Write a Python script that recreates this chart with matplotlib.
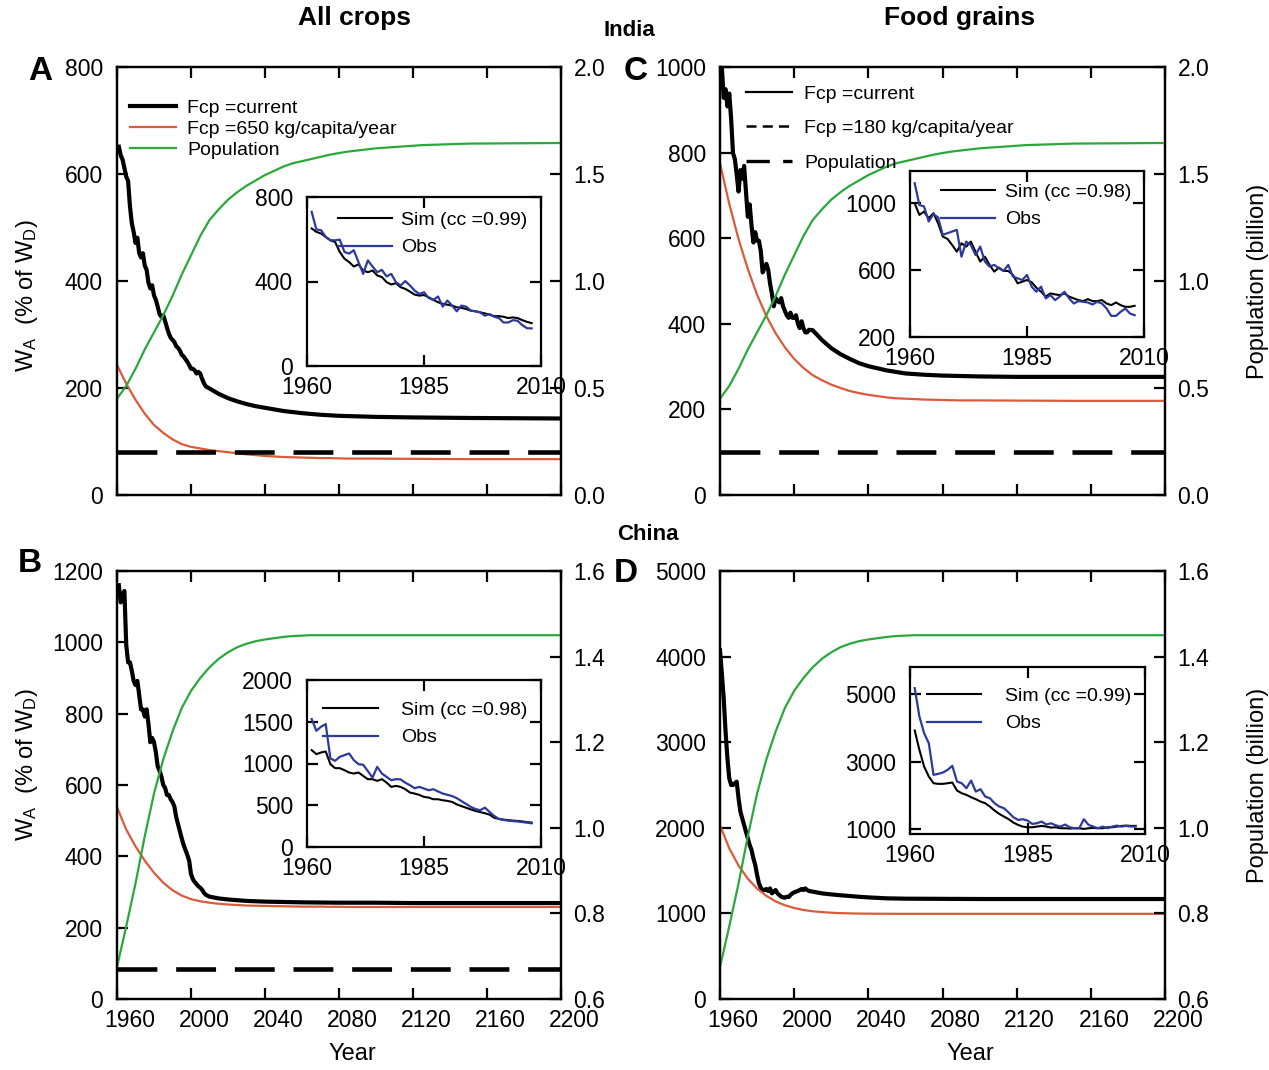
import matplotlib
matplotlib.use('Agg')
import matplotlib.pyplot as plt
from matplotlib.lines import Line2D
import matplotlib.transforms as mtransforms

plt.rcParams['font.family'] = ['Liberation Sans', 'DejaVu Sans']
plt.rcParams['mathtext.fontset'] = 'custom'
plt.rcParams['mathtext.rm'] = 'Liberation Sans'
plt.rcParams['mathtext.it'] = 'Liberation Sans:italic'
plt.rcParams['mathtext.bf'] = 'Liberation Sans:bold'

# ---------------- data ----------------
years_obs = list(range(1961, 2009))
years_proj = [2010, 2015, 2020, 2025, 2030, 2035, 2040, 2050, 2060, 2070, 2080, 2100, 2120, 2150, 2200]
years_smooth = [1960, 1965, 1970, 1975, 1980, 1985, 1990, 1995, 2000, 2005, 2010, 2015, 2020,
                2025, 2030, 2035, 2040, 2045, 2050, 2055, 2060, 2065, 2070, 2075, 2080, 2085,
                2090, 2095, 2100, 2125, 2150, 2200]

# India, all crops (W_A, % of W_D)
india_all_sim = [651, 635, 627, 611, 595, 587, 540, 508, 492, 471, 481, 452, 444, 452, 429, 421,
                 397, 386, 392, 373, 365, 352, 338, 333, 336, 325, 313, 302, 294, 290, 286, 278,
                 275, 270, 262, 259, 254, 249, 243, 236, 236, 233, 227, 230, 227, 217, 209, 203]
india_all_obs = [730, 646, 643, 611, 595, 595, 598, 540, 532, 548, 492, 436, 500, 471, 444, 455,
                 424, 436, 397, 381, 402, 381, 357, 341, 349, 322, 313, 329, 281, 310, 286, 259,
                 286, 281, 262, 259, 254, 238, 246, 233, 227, 206, 206, 217, 214, 193, 179, 178]
india_all_proj = [199, 189, 181, 175, 170, 166, 163, 157, 153, 150, 148, 146, 145, 144, 143]
india_all_fcp650 = [243, 208, 178, 152, 131, 116, 104, 95, 90, 87, 84, 82, 80, 78, 76, 74.5, 73,
                    72, 71, 70.5, 70, 69.5, 69, 69, 68.5, 68, 68, 68, 68, 67.5, 67, 67]
india_all_dash = 80

# India, food grains
india_fg_sim = [998, 928, 948, 908, 938, 879, 799, 785, 749, 709, 759, 739, 769, 709, 650, 679,
                630, 590, 614, 594, 594, 570, 520, 530, 540, 526, 494, 470, 441, 460, 454, 450,
                460, 441, 430, 420, 414, 426, 414, 414, 420, 400, 390, 406, 390, 380, 380, 386]
india_fg_obs = [1117, 988, 978, 889, 933, 913, 809, 819, 829, 839, 679, 769, 749, 689, 739, 650,
                620, 630, 610, 594, 630, 560, 550, 540, 570, 500, 470, 500, 430, 450, 420, 441,
                470, 430, 400, 414, 410, 406, 394, 410, 400, 370, 326, 326, 350, 370, 340, 330]
india_fg_proj = [385, 362, 343, 329, 318, 308, 301, 291, 284, 281, 279, 277, 276, 276, 276]
india_fg_fcp180 = [775, 680, 598, 528, 468, 418, 378, 345, 318, 297, 280, 268, 258, 250, 243, 238,
                   234, 231, 228, 226, 225, 224, 223, 222.5, 222, 221.5, 221, 221, 221, 220.5,
                   220, 220]
india_fg_dash = 100

# China, all crops
china_all_sim = [1160, 1112, 1132, 1144, 992, 944, 944, 920, 892, 880, 892, 852, 812, 812, 792, 812,
                 772, 720, 732, 720, 692, 652, 640, 624, 600, 592, 572, 572, 560, 552, 540, 510,
                 490, 470, 450, 432, 418, 404, 388, 350, 336, 328, 322, 316, 312, 306, 298, 292]
china_all_obs = [1532, 1392, 1440, 1472, 1060, 1032, 1080, 1100, 1120, 1040, 992, 985, 910, 830,
                 960, 880, 840, 800, 812, 810, 770, 740, 704, 720, 700, 680, 692, 665, 640, 625,
                 610, 585, 550, 515, 480, 455, 440, 472, 420, 372, 336, 324, 316, 310, 306, 298,
                 292, 284]
china_all_proj = [287, 282, 279, 277, 275, 274, 273, 272, 271, 270.5, 270, 270, 269, 269, 269]
china_all_fcp650 = [538, 475, 428, 388, 354, 326, 305, 290, 280, 274, 270, 267, 265, 263.5, 262,
                    261.5, 261, 260.5, 260, 259.5, 259, 259, 259, 258.5, 258.5, 258, 258, 258, 258,
                    258, 258, 258]
china_all_dash = 83

# China, food grains
china_fg_sim = [3916, 3344, 2852, 2556, 2359, 2340, 2340, 2359, 2379, 2143, 2064, 2015, 1946, 1887,
                1818, 1768, 1670, 1552, 1453, 1374, 1296, 1197, 1128, 1079, 1059, 1059, 1079, 1099,
                1079, 1049, 1059, 1030, 1030, 1020, 1030, 1030, 1010, 1030, 1039, 1030, 1030, 1059,
                1059, 1079, 1099, 1108, 1099, 1099]
china_fg_obs = [5167, 4329, 3837, 3541, 2606, 2635, 2675, 2753, 2872, 2409, 2359, 2212, 2438, 2113,
                2182, 1965, 1916, 1768, 1670, 1621, 1493, 1355, 1276, 1296, 1256, 1158, 1177, 1227,
                1138, 1177, 1118, 1079, 1138, 1059, 1030, 1030, 1296, 1128, 1079, 1030, 1079, 1030,
                1079, 1108, 1079, 1099, 1079, 1079]
china_fg_main_years = list(range(1960, 2009))
china_fg_main = [4076, 3800, 3512, 3123, 2812, 2578, 2500, 2500, 2520, 2539, 2345, 2189, 2111, 2033,
                 1955, 1877, 1799, 1741, 1643, 1566, 1449, 1351, 1300, 1273, 1273, 1285, 1262, 1292,
                 1234, 1254, 1273, 1234, 1215, 1195, 1187, 1184, 1195, 1191, 1215, 1234, 1246, 1254,
                 1262, 1273, 1285, 1273, 1292, 1273, 1262]
china_fg_proj = [1254, 1234, 1222, 1212, 1203, 1194, 1187, 1176, 1172, 1171, 1170, 1168, 1168, 1168,
                 1168]
china_fg_fcp180 = [2030, 1760, 1560, 1405, 1290, 1205, 1140, 1095, 1063, 1040, 1025, 1015, 1008,
                   1003, 1000, 998, 997, 996, 996, 995, 995, 995, 995, 995, 995, 995, 995, 995, 995,
                   995, 995, 995]

# Population (billion)
india_pop = [0.45, 0.51, 0.59, 0.68, 0.76, 0.84, 0.93, 1.03, 1.12, 1.21, 1.285, 1.335, 1.38, 1.415,
             1.445, 1.47, 1.495, 1.515, 1.535, 1.55, 1.56, 1.57, 1.58, 1.59, 1.598, 1.605, 1.61,
             1.615, 1.62, 1.635, 1.642, 1.645]
china_pop = [0.675, 0.77, 0.87, 0.98, 1.08, 1.16, 1.225, 1.28, 1.32, 1.35, 1.375, 1.395, 1.41,
             1.422, 1.43, 1.436, 1.44, 1.443, 1.446, 1.448, 1.449, 1.45, 1.45, 1.45, 1.45, 1.45,
             1.45, 1.45, 1.45, 1.45, 1.45, 1.45]

# ---------------- style ----------------
RED = '#dc5a3c'
GREEN = '#2aa83c'
BLUE = '#2e3a9a'
W, H = 1269, 1070
TICK_FS = 16.5
LEG_FS = 14
LAB_FS = 17

fig = plt.figure(figsize=(W / 100, H / 100), dpi=100)


def rect(l, t, r, b):
    return [l / W, 1 - b / H, (r - l) / W, (b - t) / H]


def fpt(x, y):
    return (x / W, 1 - y / H)


def style_spines(ax):
    for s in ax.spines.values():
        s.set_linewidth(1.6)


def main_panel(box, wa_years, wa_vals, red_vals, pop_vals, ylim, yticks, plim, pticks,
               dash_level, show_x):
    ax = fig.add_axes(rect(*box))
    ax.plot(wa_years, wa_vals, color='black', lw=3.0)
    ax.plot(years_smooth, red_vals, color=RED, lw=1.6)
    if dash_level is not None:
        ax.axhline(dash_level, color='black', lw=3.3, dashes=(8.7, 4.1))
    ax.set_xlim(1960, 2200)
    ax.set_ylim(*ylim)
    ax.set_yticks(yticks)
    ax.set_xticks(list(range(1960, 2201, 40)))
    ax.tick_params(direction='in', length=8, width=1.6, labelsize=TICK_FS,
                   top=True, bottom=True, left=True, right=False,
                   labelbottom=show_x, labeltop=False)
    ax.tick_params(axis='y', pad=10)
    ax.tick_params(axis='x', pad=7)
    if show_x:
        off = mtransforms.ScaledTranslation(13 / 100, 0, fig.dpi_scale_trans)
        for lab in ax.get_xticklabels():
            lab.set_transform(lab.get_transform() + off)
    style_spines(ax)
    ax2 = ax.twinx()
    ax2.plot(years_smooth, pop_vals, color=GREEN, lw=1.6)
    ax2.set_ylim(*plim)
    ax2.set_yticks(pticks)
    ax2.set_yticklabels([f'{t:.1f}' for t in pticks])
    ax2.tick_params(direction='in', length=8, width=1.6, labelsize=TICK_FS, pad=9)
    style_spines(ax2)
    return ax, ax2


def inset(box, sim, obs, ylim, yticks, cc, anchor, hlen, tpad):
    ax = fig.add_axes(rect(*box))
    ax.set_facecolor('white')
    l1, = ax.plot(years_obs, sim, color='black', lw=1.5)
    l2, = ax.plot(years_obs, obs, color=BLUE, lw=1.6)
    ax.set_xlim(1960, 2010)
    ax.set_xticks([1960, 1985, 2010])
    ax.set_ylim(*ylim)
    ax.set_yticks(yticks)
    ax.tick_params(direction='in', length=8, width=1.6, labelsize=TICK_FS,
                   top=True, right=True)
    ax.tick_params(axis='y', pad=10)
    ax.tick_params(axis='x', pad=7)
    style_spines(ax)
    ax.legend([l1, l2], [f'Sim (cc =0.{cc})', 'Obs'], loc='upper left',
              bbox_to_anchor=fpt(*anchor), bbox_transform=fig.transFigure,
              frameon=False, borderpad=0, borderaxespad=0, fontsize=LEG_FS,
              handlelength=hlen, handletextpad=tpad, labelspacing=0.52)
    return ax


# ---------------- panels ----------------
A_box = (117, 67, 561, 495)
C_box = (720, 67, 1165, 495)
B_box = (117, 571, 561, 999)
D_box = (720, 571, 1165, 999)

WA_LABEL = r'W$_\mathrm{A}$  (% of W$_\mathrm{D}$)'

# A
axA, axA2 = main_panel(A_box, years_obs + years_proj, india_all_sim + india_all_proj,
                       india_all_fcp650, india_pop, (0, 800), [0, 200, 400, 600, 800],
                       (0, 2.0), [0.0, 0.5, 1.0, 1.5, 2.0], india_all_dash, False)
hA = [Line2D([], [], color='black', lw=3.0), Line2D([], [], color=RED, lw=1.6),
      Line2D([], [], color=GREEN, lw=1.6)]
axA2.legend(hA, ['Fcp =current', 'Fcp =650 kg/capita/year', 'Population'], loc='upper left',
            bbox_to_anchor=fpt(130, 99), bbox_transform=fig.transFigure, frameon=False,
            borderpad=0, borderaxespad=0, fontsize=LEG_FS, handlelength=2.37,
            handletextpad=0.57, labelspacing=0.18)
axA.set_ylabel(WA_LABEL, fontsize=LAB_FS)
axA.yaxis.set_label_coords((27 - 117) / 444, 0.465)
axA.yaxis.label.set_va('center')

# C
axC, axC2 = main_panel(C_box, years_obs + years_proj, india_fg_sim + india_fg_proj,
                       india_fg_fcp180, india_pop, (0, 1000), [0, 200, 400, 600, 800, 1000],
                       (0, 2.0), [0.0, 0.5, 1.0, 1.5, 2.0], india_fg_dash, False)
hC = [Line2D([], [], color='black', lw=1.6),
      Line2D([], [], color='black', lw=1.8, dashes=(4, 2.5)),
      Line2D([], [], color='black', lw=2.4, dashes=(7, 4))]
axC2.legend(hC, ['Fcp =current', 'Fcp =180 kg/capita/year', 'Population'], loc='upper left',
            bbox_to_anchor=fpt(746, 85), bbox_transform=fig.transFigure, frameon=False,
            borderpad=0, borderaxespad=0, fontsize=LEG_FS, handlelength=2.37,
            handletextpad=0.62, labelspacing=0.87)
axC2.set_ylabel('Population (billion)', fontsize=LAB_FS)
axC2.yaxis.set_label_coords((1258 - 720) / 445, 0.5)
axC2.yaxis.label.set_va('center')

# B
axB, axB2 = main_panel(B_box, years_obs + years_proj, china_all_sim + china_all_proj,
                       china_all_fcp650, china_pop, (0, 1200),
                       [0, 200, 400, 600, 800, 1000, 1200],
                       (0.6, 1.6), [0.6, 0.8, 1.0, 1.2, 1.4, 1.6], china_all_dash, True)
axB.set_ylabel(WA_LABEL, fontsize=LAB_FS)
axB.yaxis.set_label_coords((27 - 117) / 444, 0.547)
axB.yaxis.label.set_va('center')
axB.set_xlabel('Year', fontsize=LAB_FS)
axB.xaxis.set_label_coords((352 - 117) / 444, (999 - 1043) / 428)

# D
axD, axD2 = main_panel(D_box, china_fg_main_years + years_proj, china_fg_main + china_fg_proj,
                       china_fg_fcp180, china_pop, (0, 5000),
                       [0, 1000, 2000, 3000, 4000, 5000],
                       (0.6, 1.6), [0.6, 0.8, 1.0, 1.2, 1.4, 1.6], None, True)
axD2.set_ylabel('Population (billion)', fontsize=LAB_FS)
axD2.yaxis.set_label_coords((1258 - 720) / 445, 0.5)
axD2.yaxis.label.set_va('center')
axD.set_xlabel('Year', fontsize=LAB_FS)
axD.xaxis.set_label_coords((970 - 720) / 445, (999 - 1043) / 428)

# insets
inset((307, 197, 541, 366), india_all_sim, india_all_obs, (0, 800), [0, 400, 800], 99,
      (338, 211), 2.78, 0.46)
inset((910, 171, 1144, 337), india_fg_sim, india_fg_obs, (200, 1190), [200, 600, 1000], 98,
      (941, 183), 2.78, 0.51)
inset((307, 680, 541, 847), china_all_sim, china_all_obs, (0, 2000),
      [0, 500, 1000, 1500, 2000], 98, (323, 701), 2.83, 1.18)
inset((910, 667, 1145, 834), china_fg_sim, china_fg_obs, (860, 5790), [1000, 3000, 5000], 99,
      (927, 687), 2.78, 1.23)

# titles and panel letters
fig.text(*fpt(355, 18), 'All crops', ha='center', va='center', fontsize=19, fontweight='bold')
fig.text(*fpt(960, 18), 'Food grains', ha='center', va='center', fontsize=19, fontweight='bold')
fig.text(*fpt(629, 30), 'India', ha='center', va='center', fontsize=16, fontweight='bold')
fig.text(*fpt(648, 534), 'China', ha='center', va='center', fontsize=16, fontweight='bold')
for letter, x, y in [('A', 40, 72), ('C', 636, 72), ('B', 30, 563), ('D', 626, 573)]:
    fig.text(*fpt(x, y), letter, ha='center', va='center', fontsize=24, fontweight='bold')

fig.savefig('out.png', dpi=100, facecolor='white')
